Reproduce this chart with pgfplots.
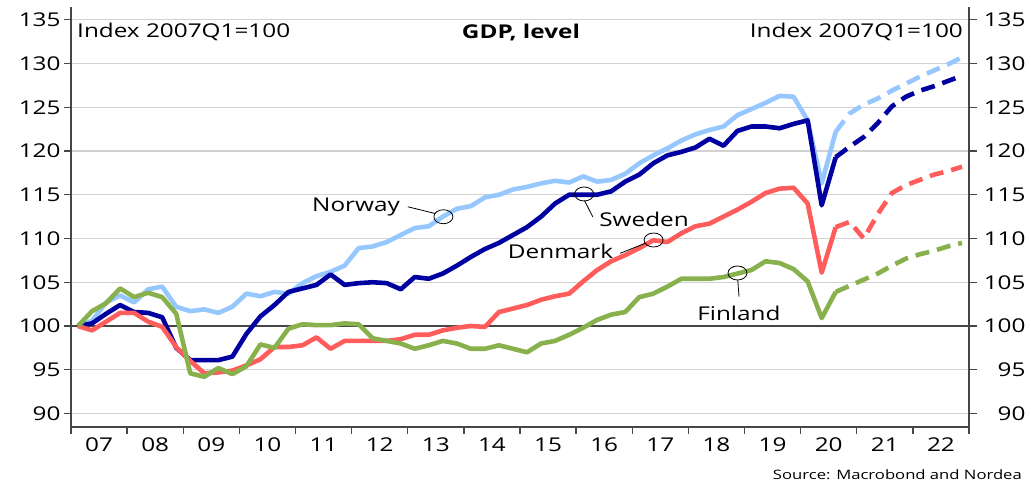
\documentclass[border=0pt]{standalone}
\usepackage{fontspec}
\setmainfont{Open Sans}[FakeStretch=1.28]
\usepackage{pgfplots}
\pgfplotsset{compat=1.18}
\usepackage{pgfplotstable}

\definecolor{nor}{RGB}{150,200,255}
\definecolor{swe}{RGB}{0,0,160}
\definecolor{den}{RGB}{255,92,92}
\definecolor{fin}{RGB}{136,176,76}
\definecolor{axc}{RGB}{70,70,70}

\pgfplotstableread{
q nor swe den fin
0 100.0 100.0 100.0 100.0
1 100.6 100.3 99.5 101.7
2 102.7 101.4 100.5 102.6
3 103.5 102.4 101.5 104.3
4 102.7 101.6 101.5 103.3
5 104.2 101.5 100.5 103.8
6 104.5 101.0 99.9 103.3
7 102.2 97.5 97.6 101.4
8 101.7 96.1 96.0 94.6
9 101.9 96.1 94.6 94.2
10 101.5 96.1 94.7 95.2
11 102.2 96.5 94.9 94.5
12 103.7 99.1 95.5 95.4
13 103.4 101.1 96.2 97.9
14 103.9 102.4 97.6 97.5
15 103.7 103.9 97.6 99.7
16 104.9 104.3 97.8 100.2
17 105.7 104.7 98.7 100.1
18 106.2 105.9 97.4 100.1
19 106.9 104.7 98.3 100.3
20 108.9 104.9 98.3 100.2
21 109.1 105.0 98.3 98.6
22 109.6 104.9 98.3 98.3
23 110.4 104.2 98.5 98.0
24 111.2 105.6 99.0 97.4
25 111.4 105.4 99.0 97.8
26 112.5 106.0 99.5 98.3
27 113.4 106.9 99.8 98.0
28 113.7 107.9 100.0 97.4
29 114.7 108.8 99.9 97.4
30 115.0 109.5 101.6 97.8
31 115.6 110.4 102.0 97.4
32 115.9 111.3 102.4 97.0
33 116.3 112.5 103.0 98.0
34 116.6 114.0 103.4 98.3
35 116.4 115.0 103.7 99.0
36 117.1 115.0 105.1 99.8
37 116.5 115.0 106.4 100.7
38 116.7 115.4 107.4 101.3
39 117.4 116.5 108.1 101.6
40 118.6 117.3 108.9 103.3
41 119.5 118.6 109.8 103.7
42 120.3 119.5 109.6 104.5
43 121.2 119.9 110.6 105.4
44 121.9 120.4 111.4 105.4
45 122.4 121.4 111.7 105.4
46 122.8 120.6 112.5 105.6
47 124.1 122.3 113.3 106.0
48 124.8 122.8 114.2 106.4
49 125.5 122.8 115.2 107.4
50 126.3 122.6 115.7 107.2
51 126.2 123.1 115.8 106.5
52 123.5 123.5 114.0 105.1
53 116.3 113.8 106.1 100.9
54 122.2 119.3 111.3 103.9
}\actual

\pgfplotstableread{
q nor swe den fin
54 122.2 119.3 111.3 103.9
55 124.3 120.5 111.9 104.6
56 125.3 121.6 110.0 105.3
57 126.0 123.2 112.8 106.0
58 126.9 125.1 115.2 106.9
59 127.7 126.2 116.1 107.7
60 128.5 126.9 116.7 108.2
61 129.2 127.4 117.3 108.6
62 129.9 128.0 117.7 109.1
63 130.7 128.6 118.2 109.5
}\fcst

\pgfplotsset{
  common/.style={
    at={(71bp,59bp)}, anchor=south west,
    width=898bp, height=420bp, scale only axis,
    xmin=-0.5, xmax=63.5, ymin=88.46, ymax=136.46,
    ytick={90,95,...,135},
    tick align=outside,
    /pgf/number format/assume math mode=true,
    tick label style={font=\fontsize{19bp}{22bp}\selectfont, text=black},
    axis line style={axc, line width=1.5bp},
    tick style={axc, line width=1.3bp},
  }
}

\begin{document}
\begin{tikzpicture}[x=1bp,y=1bp, font=\fontsize{19bp}{22bp}\selectfont]
\useasboundingbox (0,0) rectangle (1031,486);
\begin{axis}[common,
  axis x line*=bottom, axis y line*=left,
  xtick={1.5,5.5,...,61.5},
  xticklabels={07,08,09,10,11,12,13,14,15,16,17,18,19,20,21,22},
  minor xtick={-0.5,3.5,...,63.5},
  every major x tick/.append style={draw=none},
  major tick length=7bp, minor tick length=7bp,
  ymajorgrids, grid style={gray!35, line width=1.2bp},
  line join=round,
]
\addplot[axc, line width=1.5bp, forget plot] coordinates {(-0.5,100) (63.5,100)};
\addplot[nor, line width=4.6bp] table[x=q,y=nor]{\actual};
\addplot[nor, line width=4.6bp, dash pattern=on 14bp off 8bp] table[x=q,y=nor]{\fcst};
\addplot[swe, line width=4.6bp] table[x=q,y=swe]{\actual};
\addplot[swe, line width=4.6bp, dash pattern=on 14bp off 8bp] table[x=q,y=swe]{\fcst};
\addplot[den, line width=4.6bp] table[x=q,y=den]{\actual};
\addplot[den, line width=4.6bp, dash pattern=on 14bp off 8bp] table[x=q,y=den]{\fcst};
\addplot[fin, line width=4.6bp] table[x=q,y=fin]{\actual};
\addplot[fin, line width=4.6bp, dash pattern=on 14bp off 8bp] table[x=q,y=fin]{\fcst};

% annotations
\node[anchor=west, inner sep=0] at (rel axis cs:0.0067,0.940) {Index 2007Q1=100};
\node[anchor=east, inner sep=0] at (rel axis cs:0.9933,0.940) {Index 2007Q1=100};
\node[inner sep=0, font=\fontsize{19bp}{22bp}\selectfont\bfseries] at (rel axis cs:0.501,0.940) {GDP, level};

\node[anchor=east, inner sep=0] at (axis cs:22.95,113.63) {Norway};
\draw[black, line width=0.8bp] (axis cs:23.5,113.63) -- (axis cs:25.45,112.86);
\draw[black, line width=0.8bp] (axis cs:26.04,112.49) ellipse [x radius=9.5bp, y radius=7bp];

\node[anchor=west, inner sep=0] at (axis cs:37.14,112.23) {Sweden};
\draw[black, line width=0.8bp] (axis cs:36.1,114.34) -- (axis cs:36.69,112.46);
\draw[black, line width=0.8bp] (axis cs:36.07,115.09) ellipse [x radius=9.5bp, y radius=7bp];

\node[anchor=east, inner sep=0] at (axis cs:38.15,108.51) {Denmark};
\draw[black, line width=0.8bp] (axis cs:38.63,108.31) -- (axis cs:40.42,109.45);
\draw[black, line width=0.8bp] (axis cs:41.02,109.83) ellipse [x radius=9.5bp, y radius=7bp];

\node[inner sep=0] at (axis cs:47.1,101.49) {Finland};
\draw[black, line width=0.8bp] (axis cs:47.02,105.26) -- (axis cs:47.11,103.35);
\draw[black, line width=0.8bp] (axis cs:47.0,106.06) ellipse [x radius=9.5bp, y radius=7bp];
\end{axis}
\begin{axis}[common,
  axis y line*=right, axis x line=none,
  major tick length=8bp,
  yticklabel style={text width=45bp, align=right},
]
\end{axis}
\node[anchor=east, inner sep=0, font=\fontsize{13bp}{16bp}\selectfont] at (1022,11) {Source: Macrobond and Nordea};
\end{tikzpicture}
\end{document}
